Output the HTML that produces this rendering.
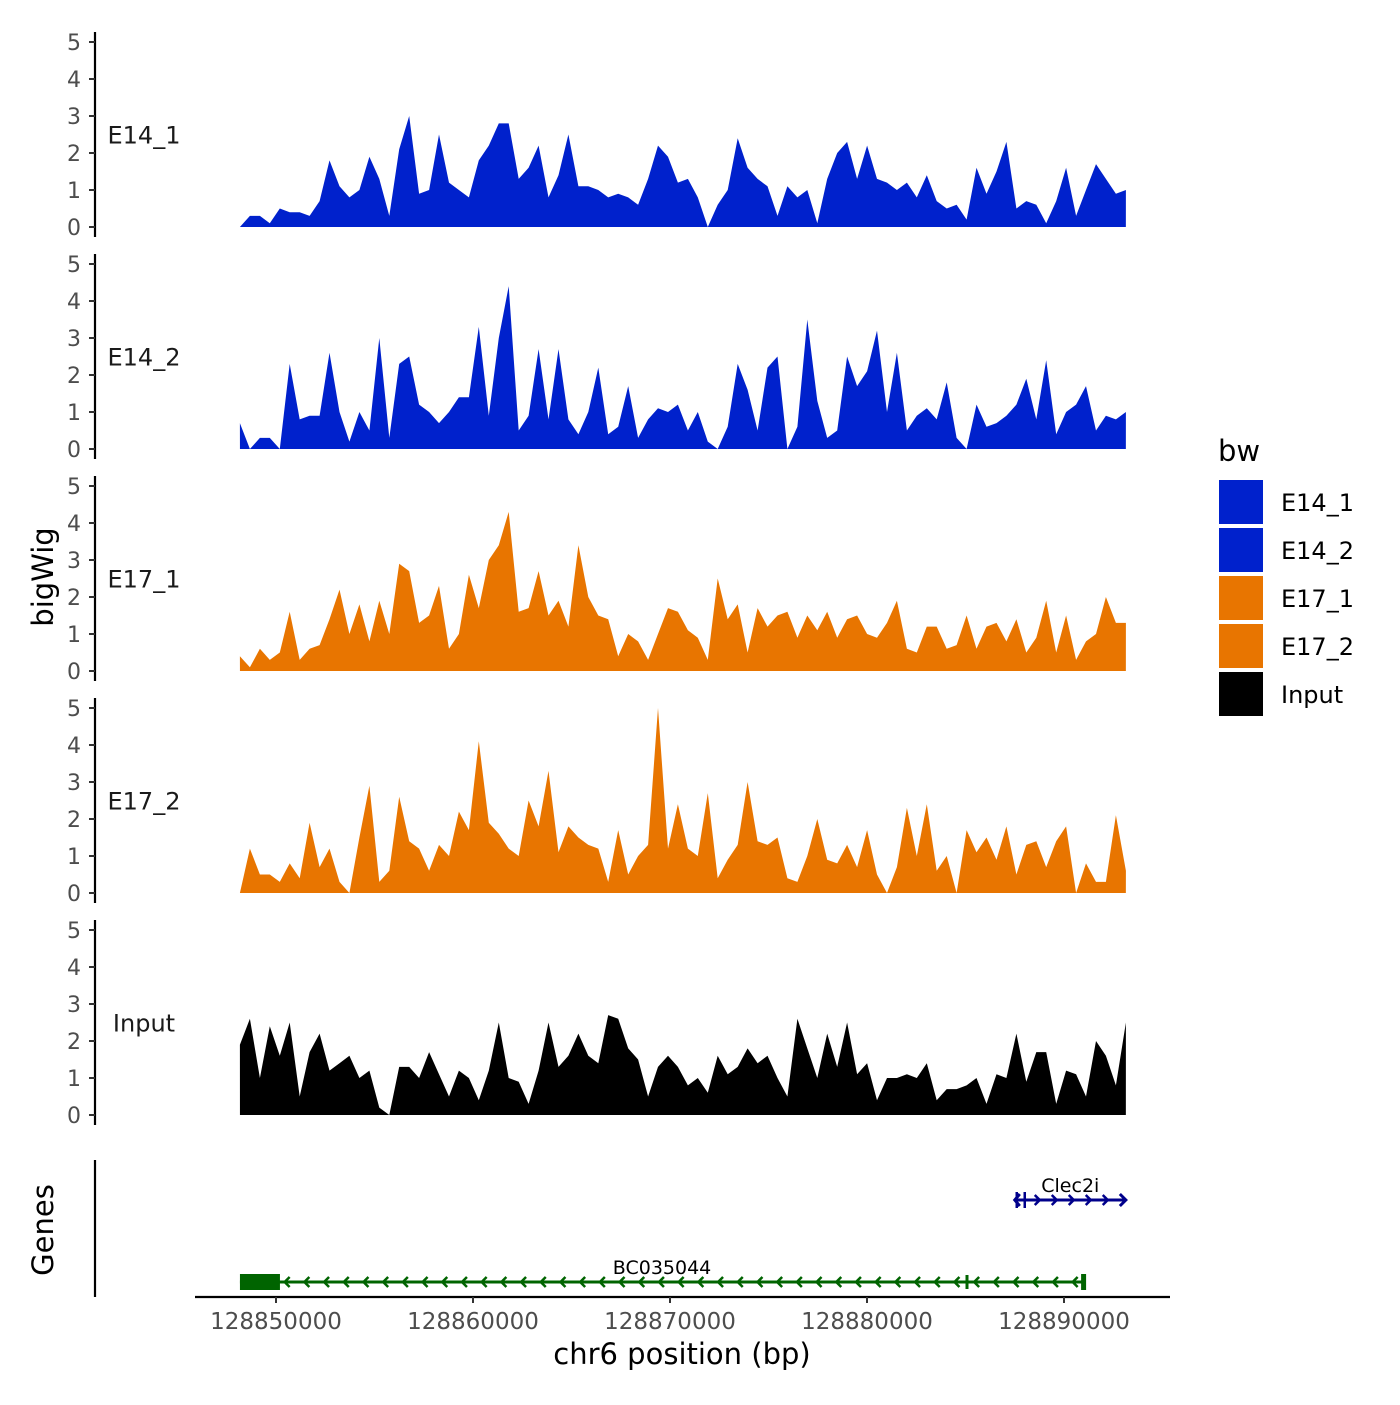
<!DOCTYPE html>
<html><head><meta charset="utf-8"><style>
body{margin:0;background:#fff;}
svg text{font-family:"DejaVu Sans","Liberation Sans",sans-serif;}
</style></head><body>
<svg id="c" width="1400" height="1400" xmlns="http://www.w3.org/2000/svg"></svg>
<script>
const trackNames = ["E14_1","E14_2","E17_1","E17_2","Input"];
const trackColors = ["#0021CC","#0021CC","#E87500","#E87500","#000000"];
const e14_1 = [0,0.3,0.3,0.1,0.5,0.4,0.4,0.3,0.7,1.8,1.1,0.8,1.0,1.9,1.3,0.3,2.1,3.0,0.9,1.0,2.5,1.2,1.0,0.8,1.8,2.2,2.8,2.8,1.3,1.6,2.2,0.8,1.4,2.5,1.1,1.1,1.0,0.8,0.9,0.8,0.6,1.3,2.2,1.9,1.2,1.3,0.8,0.0,0.6,1.0,2.4,1.6,1.3,1.1,0.3,1.1,0.8,1.0,0.1,1.3,2.0,2.3,1.3,2.2,1.3,1.2,1.0,1.2,0.8,1.4,0.7,0.5,0.6,0.2,1.6,0.9,1.5,2.3,0.5,0.7,0.6,0.1,0.7,1.6,0.3,1.0,1.7,1.3,0.9,1.0];
const e14_2 = [0.7,0.0,0.3,0.3,0.0,2.3,0.8,0.9,0.9,2.6,1.0,0.2,1.0,0.5,3.0,0.3,2.3,2.5,1.2,1.0,0.7,1.0,1.4,1.4,3.3,0.9,3.0,4.4,0.5,0.9,2.7,0.8,2.7,0.8,0.4,1.0,2.2,0.4,0.6,1.7,0.3,0.8,1.1,1.0,1.2,0.5,1.0,0.2,0.0,0.6,2.3,1.6,0.5,2.2,2.5,0.0,0.6,3.5,1.3,0.3,0.5,2.5,1.7,2.1,3.2,1.0,2.6,0.5,0.9,1.1,0.8,1.8,0.3,0.0,1.2,0.6,0.7,0.9,1.2,1.9,0.8,2.4,0.4,1.0,1.2,1.7,0.5,0.9,0.8,1.0];
const e17_1 = [0.4,0.1,0.6,0.3,0.5,1.6,0.3,0.6,0.7,1.4,2.2,1.0,1.8,0.8,1.9,1.0,2.9,2.7,1.3,1.5,2.3,0.6,1.0,2.6,1.7,3.0,3.4,4.3,1.6,1.7,2.7,1.5,1.9,1.2,3.4,2.0,1.5,1.4,0.4,1.0,0.8,0.3,1.0,1.7,1.6,1.1,0.9,0.3,2.5,1.4,1.8,0.5,1.7,1.2,1.5,1.6,0.9,1.5,1.1,1.6,0.9,1.4,1.5,1.0,0.9,1.3,1.9,0.6,0.5,1.2,1.2,0.6,0.7,1.5,0.6,1.2,1.3,0.8,1.4,0.5,0.9,1.9,0.5,1.5,0.3,0.8,1.0,2.0,1.3,1.3];
const e17_2 = [0.0,1.2,0.5,0.5,0.3,0.8,0.4,1.9,0.7,1.2,0.3,0.0,1.5,2.9,0.3,0.6,2.6,1.4,1.2,0.6,1.3,1.0,2.2,1.7,4.1,1.9,1.6,1.2,1.0,2.5,1.8,3.3,1.1,1.8,1.5,1.3,1.2,0.3,1.7,0.5,1.0,1.3,5.0,1.2,2.4,1.2,1.0,2.7,0.4,0.9,1.3,3.0,1.4,1.3,1.5,0.4,0.3,1.0,2.0,0.9,0.8,1.3,0.7,1.7,0.5,0.0,0.7,2.3,1.0,2.4,0.6,1.0,0.0,1.7,1.1,1.5,0.9,1.8,0.5,1.3,1.4,0.7,1.4,1.8,0.0,0.8,0.3,0.3,2.1,0.6];
const input = [1.9,2.6,1.0,2.4,1.6,2.5,0.5,1.7,2.2,1.2,1.4,1.6,1.0,1.2,0.2,0.0,1.3,1.3,1.0,1.7,1.1,0.5,1.2,1.0,0.4,1.2,2.5,1.0,0.9,0.3,1.2,2.5,1.3,1.6,2.2,1.6,1.4,2.7,2.6,1.8,1.5,0.5,1.3,1.6,1.3,0.8,1.0,0.6,1.6,1.1,1.3,1.8,1.4,1.6,1.0,0.5,2.6,1.8,1.0,2.2,1.3,2.5,1.1,1.4,0.4,1.0,1.0,1.1,1.0,1.4,0.4,0.7,0.7,0.8,1.0,0.3,1.1,1.0,2.2,0.9,1.7,1.7,0.3,1.2,1.1,0.5,2.0,1.6,0.8,2.5];
const series = [e14_1,e14_2,e17_1,e17_2,input];
const yTicks = [0,1,2,3,4,5];
const xTicks = [128850000,128860000,128870000,128880000,128890000];
const dataStart = 128848170, dataEnd = 128893140;
const genes = [{name:"BC035044",start:128848170,end:128891020,strand:-1,color:"#006400",row:1},
               {name:"Clec2i",start:128887500,end:128893140,strand:1,color:"#00008B",row:0}];

const svg = document.getElementById('c');
const NS = "http://www.w3.org/2000/svg";
function el(t,a,p){const e=document.createElementNS(NS,t);for(const k in a)e.setAttribute(k,a[k]);(p||svg).appendChild(e);return e;}
const xS = bp => 276 + (bp-128850000)*197/10000;
function yS(track,v){return 227 + track*222 - v*37;}

series.forEach((vals,t)=>{
  const g = el('g',{});
  
  
  let d = 'M'+xS(dataStart)+','+yS(t,0);
  const n = vals.length;
  vals.forEach((v,i)=>{ const bp = dataStart + (dataEnd-dataStart)*i/(n-1); d += ' L'+xS(bp).toFixed(1)+','+yS(t,v).toFixed(1); });
  d += ' L'+xS(dataEnd)+','+yS(t,0)+' Z';
  const p = el('path',{d:d,fill:trackColors[t]},g);
  
  
  const ax = el('line',{x1:95,x2:95,y1:yS(t,5)-10,y2:yS(t,0)+10,stroke:'#000','stroke-width':2.2},g);
  
  
  yTicks.forEach(v=>{
    el('line',{x1:89,x2:95,y1:yS(t,v),y2:yS(t,v),stroke:'#333','stroke-width':2},g);
    const tx = el('text',{x:81,y:yS(t,v)+8,'text-anchor':'end','font-size':22,fill:'#4d4d4d'},g);
    tx.textContent = v;
    
    
  });
  const lb = el('text',{x:144,y:yS(t,2.5)+9,'text-anchor':'middle','font-size':24,fill:'#1a1a1a'},g);
  lb.textContent = trackNames[t];
  
  
});

const yt = el('text',{x:0,y:0,transform:'translate(53,577) rotate(-90)','text-anchor':'middle','font-size':29});
yt.textContent='bigWig';



const ga = el('line',{x1:95,x2:95,y1:1160,y2:1297,stroke:'#000','stroke-width':2.2});


const gt = el('text',{x:0,y:0,transform:'translate(53,1230) rotate(-90)','text-anchor':'middle','font-size':29});
gt.textContent='Genes';


genes.forEach(g=>{
  const y = g.row===0?1200:1282;
  const x1=xS(g.start), x2=xS(g.end);
  const grp = el('g',{});
  
  
  el('line',{x1:x1,x2:x2,y1:y,y2:y,stroke:g.color,'stroke-width':3},grp);
  for(let x=x1+25;x<x2-5;x+=(g.strand>0?17:19.7)){
    const dx = g.strand>0?-5:5;
    el('polyline',{points:(x+dx)+','+(y-5)+' '+x+','+y+' '+(x+dx)+','+(y+5),fill:'none',stroke:g.color,'stroke-width':2.5},grp);
  }
  if(g.strand<0){
    el('rect',{x:x1,y:y-8,width:40,height:16,fill:g.color},grp);
    el('rect',{x:x2-3,y:y-8,width:5,height:16,fill:g.color},grp);
    el('line',{x1:967,x2:967,y1:y-7,y2:y+7,stroke:g.color,'stroke-width':3},grp);
  } else {
    el('polyline',{points:(x1+5)+','+(y-6)+' '+x1+','+y+' '+(x1+5)+','+(y+6),fill:'none',stroke:g.color,'stroke-width':3},grp);
    el('line',{x1:x1+2,x2:x1+2,y1:y-8,y2:y+8,stroke:g.color,'stroke-width':2.5},grp);
    el('line',{x1:x1+10,x2:x1+10,y1:y-8,y2:y+8,stroke:g.color,'stroke-width':2.5},grp);
    el('polyline',{points:(x2-6)+','+(y-6)+' '+x2+','+y+' '+(x2-6)+','+(y+6),fill:'none',stroke:g.color,'stroke-width':3},grp);
  }
  const t = el('text',{x:(x1+x2)/2,y:y-8,'text-anchor':'middle','font-size':19,fill:'#000'},grp);
  t.textContent=g.name;
});

const xa = el('line',{x1:195,x2:1170,y1:1297,y2:1297,stroke:'#000','stroke-width':2.2});


xTicks.forEach(v=>{
  el('line',{x1:xS(v),x2:xS(v),y1:1297,y2:1303,stroke:'#333','stroke-width':2});
  const t=el('text',{x:xS(v),y:1329,'text-anchor':'middle','font-size':23,fill:'#4d4d4d'});
  t.textContent=v;
  
  
});
const xt = el('text',{x:682,y:1364,'text-anchor':'middle','font-size':29});
xt.textContent='chr6 position (bp)';



const lg = el('g',{});


const lt = el('text',{x:1218,y:461,'font-size':29},lg);
lt.textContent='bw';
trackNames.forEach((n,i)=>{
  const e = el('g',{},lg);
  
  
  el('rect',{x:1219,y:480+i*48,width:44,height:44,fill:trackColors[i]},e);
  const t=el('text',{x:1281,y:511+i*48,'font-size':24},e);
  t.textContent=n;
});
</script>
</body></html>
